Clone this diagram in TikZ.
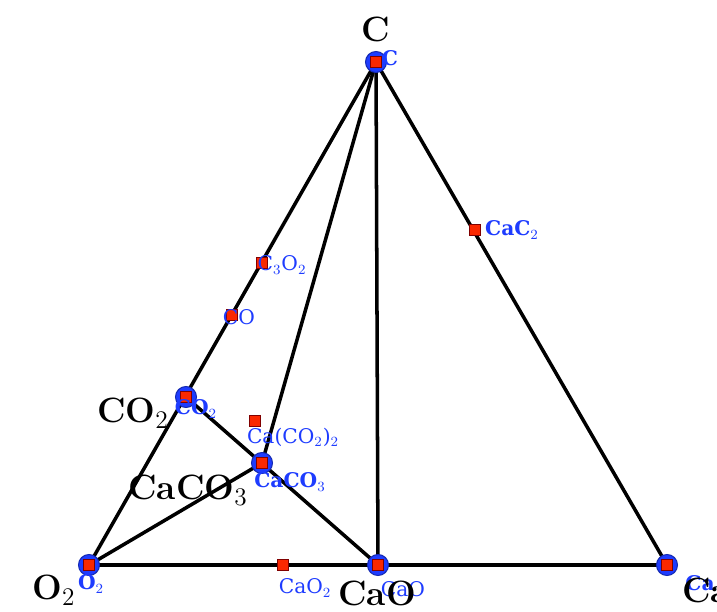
\documentclass[tikz,border=0pt]{standalone}
\usepackage{fontspec}
\usepackage{amsmath}
\usepackage{xcolor}
\newfontfamily\lblfont{DejaVu Serif}
\usetikzlibrary{positioning}

\definecolor{phaseblue}{RGB}{30,60,255}
\definecolor{phasered}{RGB}{250,40,0}

\begin{document}
\begin{tikzpicture}[
    x=0.02cm, y=-0.02cm,
    tie/.style={line width=2pt,black},
    stab/.style={circle,draw=phaseblue!70!black,fill=phaseblue,line width=0.6pt,minimum size=0.42cm,inner sep=0pt},
    pt/.style={rectangle,draw=red!50!black,fill=phasered,line width=0.3pt,minimum size=0.22cm,inner sep=0pt},
    corner/.style={font=\fontsize{20}{23}\selectfont\bfseries,text=black,inner sep=0pt},
    lab/.style={font=\lblfont\fontsize{11.5}{13}\selectfont,text=phaseblue,inner sep=0pt},
    blab/.style={lab,font=\lblfont\fontsize{11.5}{13}\selectfont\bfseries}
  ]
    \useasboundingbox (0,0) rectangle (717,612);
    \clip (0,0) rectangle (717,612);
    % phase positions
    \coordinate (C) at (376,62);
    \coordinate (O2) at (89,565);
    \coordinate (CaO) at (378,565);
    \coordinate (Ca) at (667,565);
    \coordinate (CO2) at (186,397);
    \coordinate (CaCO3) at (262,463);
    \coordinate (CO) at (232,315);
    \coordinate (C3O2) at (262,263);
    \coordinate (CaC2) at (475,230);
    \coordinate (CaO2) at (283,565);
    \coordinate (CaCO22) at (255,421);
    % tie lines
    \draw[tie] (C) -- (O2) -- (Ca) -- cycle;
    \draw[tie] (C) -- (CaO);
    \draw[tie] (C) -- (CaCO3);
    \draw[tie] (O2) -- (CaCO3);
    \draw[tie] (CO2) -- (CaO);
    % stable phases
    \foreach \p in {C,CO2,CaCO3,O2,CaO,Ca}
      \node[stab] (s\p) at (\p) {};
    \foreach \p in {C,CO2,CaCO3,O2,CaO,Ca,CO,C3O2,CaC2,CaO2,CaCO22}
      \node[pt] (q\p) at (\p) {};
    % blue labels
    \node[blab] at (390,58) {C};
    \node[blab] at (196,409) {CO$_2$};
    \node[blab] at (290,482) {CaCO$_3$};
    \node[blab] at (91,584) {O$_2$};
    \node[blab] at (700,583) {Ca};
    \node[blab] at (512,230) {CaC$_2$};
    \node[lab] at (293,437) {Ca(CO$_2$)$_2$};
    \node[lab] at (282,265) {C$_3$O$_2$};
    \node[lab] at (239,317) {CO};
    \node[lab] at (305,588) {CaO$_2$};
    \node[lab] at (403,589) {CaO};
    % element labels
    \node[corner] at (376,29) {C};
    \node[corner] at (133,413) {CO$_2$};
    \node[corner] at (188,490) {CaCO$_3$};
    \node[corner] at (54,590) {O$_2$};
    \node[corner] at (377,593) {CaO};
    \node[corner] at (706,590) {Ca};
  \end{tikzpicture}
\end{document}
